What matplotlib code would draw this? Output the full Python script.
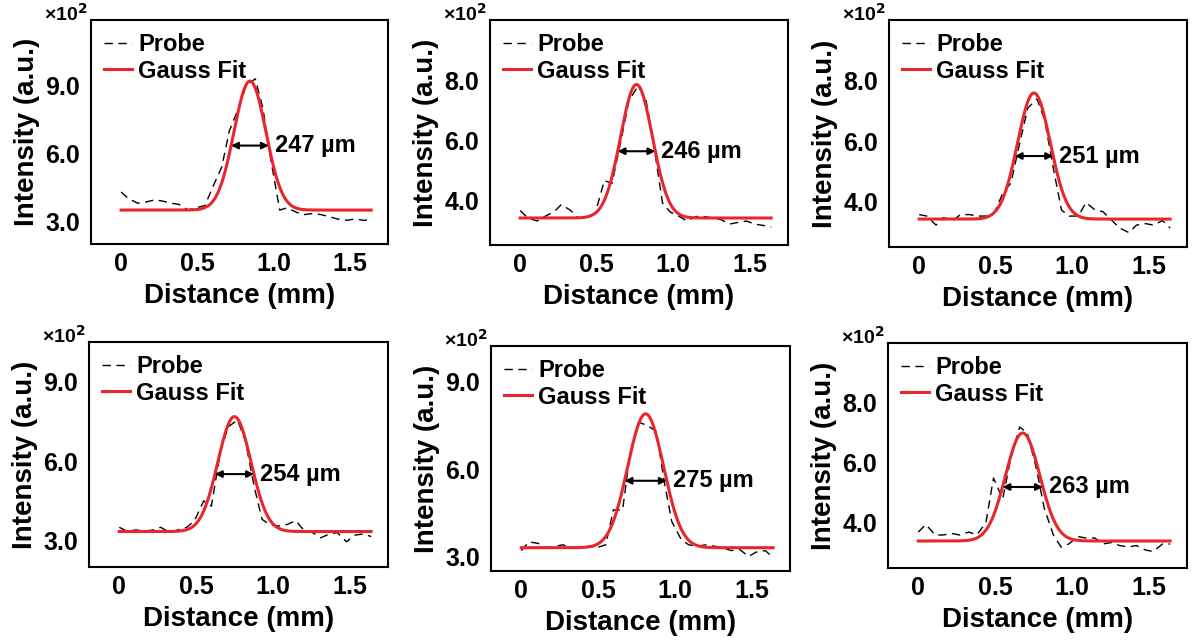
import numpy as np
import matplotlib
matplotlib.use("Agg")
import matplotlib.pyplot as plt

plt.rcParams["font.family"] = ["Liberation Sans", "DejaVu Sans"]
plt.rcParams["font.weight"] = "bold"

# shared sampling positions of the probe profiles (mm)
distance = [0.00, 0.05, 0.11, 0.16, 0.22, 0.27, 0.33, 0.38, 0.44, 0.49, 0.55,
            0.60, 0.66, 0.71, 0.77, 0.82, 0.88, 0.93, 0.98, 1.04, 1.09, 1.15,
            1.20, 1.26, 1.31, 1.37, 1.42, 1.48, 1.53, 1.59, 1.64]

# probe intensity profiles (x10^2 a.u.)
probe_1 = [4.3, 4.0, 3.8, 3.85, 3.95, 3.9, 3.8, 3.75, 3.5, 3.6, 3.7,
           4.5, 5.4, 7.0, 8.0, 9.0, 9.3, 8.0, 5.8, 3.5, 3.6, 3.4,
           3.3, 3.35, 3.3, 3.2, 3.1, 3.05, 3.1, 3.05, 3.05]
probe_2 = [3.65, 3.4, 3.3, 3.45, 3.6, 3.85, 3.65, 3.4, 3.45, 3.55, 4.65,
           4.55, 6.0, 7.3, 7.8, 7.4, 5.6, 3.9, 3.6, 3.45, 3.3, 3.45,
           3.45, 3.4, 3.35, 3.2, 3.25, 3.3, 3.2, 3.15, 3.1]
probe_3 = [3.55, 3.5, 3.2, 3.45, 3.35, 3.55, 3.55, 3.5, 3.5, 3.6, 4.3,
           4.6, 6.0, 7.1, 7.4, 6.7, 5.0, 3.7, 3.5, 3.5, 3.95, 3.7,
           3.65, 3.35, 3.1, 2.95, 3.2, 3.25, 3.2, 3.35, 3.1]
probe_4 = [3.5, 3.35, 3.4, 3.35, 3.4, 3.5, 3.3, 3.4, 3.5, 3.75, 4.5,
           4.3, 6.4, 7.3, 7.55, 6.8, 5.0, 3.8, 3.6, 3.55, 3.6, 3.75,
           3.4, 3.3, 3.1, 3.25, 3.3, 2.95, 3.2, 3.25, 3.15]
probe_5 = [3.2, 3.5, 3.45, 3.3, 3.35, 3.4, 3.3, 3.3, 3.35, 3.3, 3.4,
           4.6, 4.6, 6.6, 7.6, 7.5, 7.3, 5.6, 4.2, 3.6, 3.4, 3.35,
           3.4, 3.35, 3.3, 3.2, 3.25, 3.0, 3.15, 3.2, 2.95]
probe_6 = [3.7, 3.95, 3.6, 3.6, 3.65, 3.6, 3.7, 3.6, 4.0, 5.5, 4.8,
           6.1, 7.2, 7.0, 5.8, 4.5, 3.6, 3.2, 3.3, 3.55, 3.5, 3.5,
           3.3, 3.35, 3.25, 3.2, 3.25, 3.1, 3.05, 3.3, 3.3]
probes = [probe_1, probe_2, probe_3, probe_4, probe_5, probe_6]

# Gaussian fit parameters per panel
fit_base = [3.5, 3.4, 3.4, 3.34, 3.3, 3.4]
fit_peak = [9.2, 7.85, 7.6, 7.68, 7.9, 7.0]
fit_center = [0.845, 0.76, 0.75, 0.75, 0.81, 0.68]
fwhm_um = [247, 246, 251, 254, 275, 263]

ylims = [(2.0, 11.9), (2.5, 10.0), (2.47, 10.03), (2.0, 10.5), (2.5, 10.23), (2.5, 10.0)]
yticks = [[3.0, 6.0, 9.0], [4.0, 6.0, 8.0], [4.0, 6.0, 8.0],
          [3.0, 6.0, 9.0], [3.0, 6.0, 9.0], [4.0, 6.0, 8.0]]

# axes boxes in pixels: left, right, top, bottom
boxes = [(91, 388, 20, 244), (490, 788, 20, 245), (889, 1187, 20, 247),
         (89, 388, 342, 567), (491, 790, 346, 571), (888, 1187, 343, 568)]

W, H = 1198, 643
fig = plt.figure(figsize=(W / 100, H / 100), dpi=100)
red = "#e8262b"

for i in range(6):
    l, r, t, b = boxes[i]
    ax = fig.add_axes([l / W, 1 - b / H, (r - l) / W, (b - t) / H])

    ax.plot(distance, probes[i], color="black", lw=1.0,
            linestyle=(0, (6, 4)), label="Probe")

    xs = np.linspace(distance[0], distance[-1], 400)
    f = fwhm_um[i] / 1000
    amp = fit_peak[i] - fit_base[i]
    ys = fit_base[i] + amp * np.exp(-4 * np.log(2) * (xs - fit_center[i]) ** 2 / f ** 2)
    ax.plot(xs, ys, color=red, lw=2.2, label="Gauss Fit")

    half = fit_base[i] + amp / 2
    ax.annotate("", xy=(fit_center[i] - f / 2, half),
                xytext=(fit_center[i] + f / 2, half),
                arrowprops=dict(arrowstyle="<|-|>", lw=1.5, color="black",
                                shrinkA=0, shrinkB=0, mutation_scale=10))
    ax.text(fit_center[i] + f / 2 + 0.04, half, f"{fwhm_um[i]} µm",
            fontsize=17, fontweight="bold", ha="left", va="center")

    ax.set_xlim(-0.197, 1.75)
    ax.set_ylim(*ylims[i])
    ax.set_xticks([0, 0.5, 1.0, 1.5])
    ax.set_xticklabels(["0", "0.5", "1.0", "1.5"])
    ax.set_yticks(yticks[i])
    ax.set_yticklabels([f"{v:.1f}" for v in yticks[i]])
    ax.tick_params(length=0, labelsize=18)
    ax.tick_params(axis="x", pad=6)
    ax.tick_params(axis="y", pad=8)
    for lab in ax.get_xticklabels() + ax.get_yticklabels():
        lab.set_fontweight("bold")
    for s in ax.spines.values():
        s.set_linewidth(1.5)

    ax.set_xlabel("Distance (mm)", fontsize=20, fontweight="bold", labelpad=5)
    ax.set_ylabel("Intensity (a.u.)", fontsize=20, fontweight="bold", labelpad=4)

    ax.text(-0.01, 0.995, "×10$^{\\mathbf{2}}$", transform=ax.transAxes,
            fontsize=14, ha="right", va="baseline")

    ax.legend(loc="upper left", frameon=False,
              handlelength=1.2, handletextpad=0.25, labelspacing=0.15,
              borderaxespad=0.35, borderpad=0.2,
              prop={"weight": "bold", "size": 17})

fig.savefig("out.png", dpi=100)
